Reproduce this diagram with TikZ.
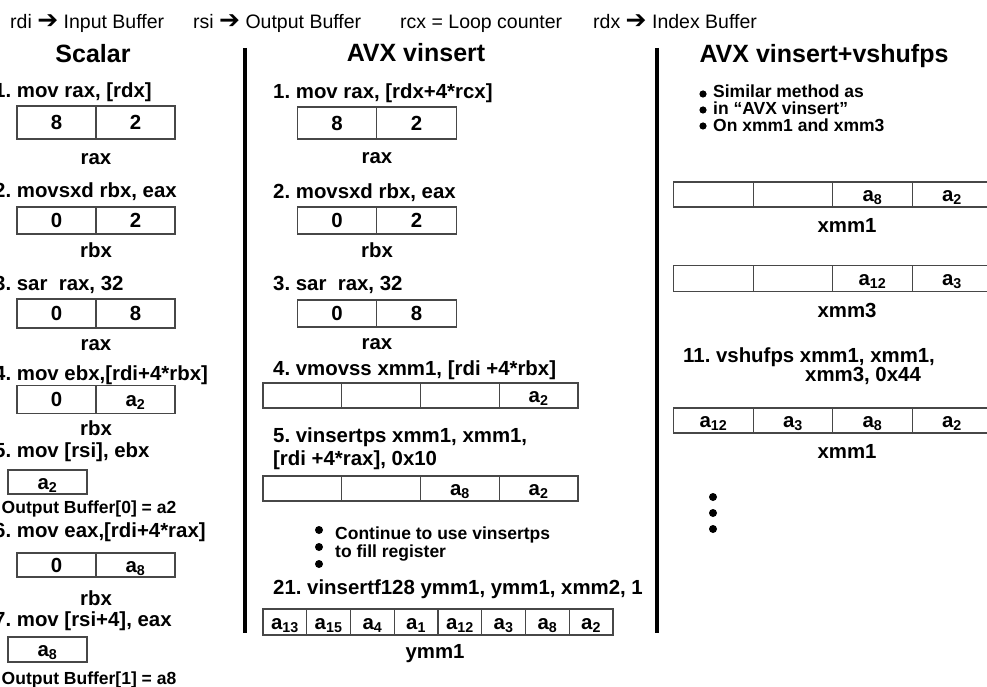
\documentclass[tikz,border=0pt]{standalone}
\usepackage{fontspec}
\setmainfont{Liberation Sans}
\newfontfamily\arrowfont{DejaVu Sans}
\newcommand\hdrf{\fontsize{19.5}{22}\selectfont}
\newcommand\stepf{\fontsize{20.4}{23}\selectfont\bfseries}
\newcommand\titlef{\fontsize{25}{28}\selectfont\bfseries}
\newcommand\smallf{\fontsize{17.5}{20}\selectfont\bfseries}
\newcommand\rarr{{\arrowfont\bfseries\fontsize{25}{25}\selectfont ➔}}
\newcommand\asub[1]{a\textsubscript{#1}}
\begin{document}
\frenchspacing
\begin{tikzpicture}[x=1pt,y=-1pt,
  hdr/.style={font=\hdrf, anchor=base west, inner sep=0},
  ttl/.style={font=\titlef, anchor=base, inner sep=0},
  stp/.style={font=\stepf, anchor=base west, inner sep=0},
  regname/.style={font=\stepf, anchor=base, inner sep=0},
  note/.style={font=\smallf, anchor=base west, inner sep=0},
  notec/.style={font=\smallf, anchor=base, inner sep=0},
  cell/.style={draw=black!72, line width=1.1pt, inner sep=0, font=\stepf, text height=14.6pt, text depth=0pt},
  sep/.style={line width=4pt, black},
  dot/.style={black}
]
\useasboundingbox (0,0) rectangle (987,687);
\fill[white] (0,0) rectangle (987,687);

% header
\node[hdr] (h1) at (10,29) {rdi \rarr\ Input Buffer};
\node[hdr] (h2) at (193,29) {rsi \rarr\ Output Buffer};
\node[hdr] (h3) at (400,29) {rcx = Loop counter};
\node[hdr] (h4) at (593,29) {rdx \rarr\ Index Buffer};

% separators
\coordinate (s1t) at (244.5,48); \coordinate (s1b) at (244.5,633);
\coordinate (s2t) at (657,48); \coordinate (s2b) at (657,633);
\draw[sep] (s1t) -- (s1b);
\draw[sep] (s2t) -- (s2b);

% titles
\node[ttl] (t1) at (93,63) {Scalar};
\node[ttl] (t2) at (416,62) {AVX vinsert};
\node[ttl] (t3) at (824,63) {AVX vinsert+vshufps};

% ---------------- Scalar column
\node[stp] (sl1) at (-6,98) {1. mov rax, [rdx]};
\node[cell, minimum width=79pt, minimum height=33pt] (sb1a) at (56.5,122.5) {8};
\node[cell, minimum width=79pt, minimum height=33pt] (sb1b) at (135.5,122.5) {2};
\node[regname] (sr1) at (96,165) {rax};

\node[stp] (sl2) at (-6,197) {2. movsxd rbx, eax};
\node[cell, minimum width=79pt, minimum height=27pt] (sb2a) at (56.5,220.5) {0};
\node[cell, minimum width=79pt, minimum height=27pt] (sb2b) at (135.5,220.5) {2};
\node[regname] (sr2) at (96,257) {rbx};

\node[stp] (sl3) at (-6,290) {3. sar\ \ rax, 32};
\node[cell, minimum width=79pt, minimum height=29pt] (sb3a) at (56.5,313.5) {0};
\node[cell, minimum width=79pt, minimum height=29pt] (sb3b) at (135.5,313.5) {8};
\node[regname] (sr3) at (96,350) {rax};

\node[stp] (sl4) at (-6,380) {4. mov ebx,[rdi+4*rbx]};
\node[cell, minimum width=79pt, minimum height=28pt] (sb4a) at (56.5,399.5) {0};
\node[cell, minimum width=79pt, minimum height=28pt] (sb4b) at (135.5,399.5) {\asub{2}};
\node[regname] (sr4) at (96,435) {rbx};

\node[stp] (sl5) at (-6,457) {5. mov [rsi], ebx};
\node[cell, minimum width=79pt, minimum height=24pt] (sb5) at (47.5,482) {\asub{2}};
\node[notec] (so1) at (89,513) {Output Buffer[0] = a2};

\node[stp] (sl6) at (-6,537) {6. mov eax,[rdi+4*rax]};
\node[cell, minimum width=79pt, minimum height=24pt] (sb6a) at (56.5,565) {0};
\node[cell, minimum width=79pt, minimum height=24pt] (sb6b) at (135.5,565) {\asub{8}};
\node[regname] (sr6) at (96,605) {rbx};

\node[stp] (sl7) at (-6,626) {7. mov [rsi+4], eax};
\node[cell, minimum width=79pt, minimum height=25pt] (sb7) at (47.5,649.5) {\asub{8}};
\node[notec] (so2) at (89,684) {Output Buffer[1] = a8};

% ---------------- AVX vinsert column
\node[stp] (al1) at (273,99) {1. mov rax, [rdx+4*rcx]};
\node[cell, minimum width=79.5pt, minimum height=32pt] (ab1a) at (337,123) {8};
\node[cell, minimum width=79.5pt, minimum height=32pt] (ab1b) at (416.5,123) {2};
\node[regname] (ar1) at (377,164) {rax};

\node[stp] (al2) at (273,199) {2. movsxd rbx, eax};
\node[cell, minimum width=79.5pt, minimum height=27pt] (ab2a) at (337,220.5) {0};
\node[cell, minimum width=79.5pt, minimum height=27pt] (ab2b) at (416.5,220.5) {2};
\node[regname] (ar2) at (377,257) {rbx};

\node[stp] (al3) at (273,290) {3. sar\ \ rax, 32};
\node[cell, minimum width=79.5pt, minimum height=27pt] (ab3a) at (337,313.5) {0};
\node[cell, minimum width=79.5pt, minimum height=27pt] (ab3b) at (416.5,313.5) {8};
\node[regname] (ar3) at (377,349) {rax};

\node[stp] (al4) at (273,375) {4. vmovss xmm1, [rdi +4*rbx]};
\node[cell, minimum width=78.75pt, minimum height=25pt] (ab4a) at (302.4,395.5) {};
\node[cell, minimum width=78.75pt, minimum height=25pt] (ab4b) at (381.1,395.5) {};
\node[cell, minimum width=78.75pt, minimum height=25pt] (ab4c) at (459.9,395.5) {};
\node[cell, minimum width=78.75pt, minimum height=25pt] (ab4d) at (538.6,395.5) {\asub{2}};

\node[stp] (al5) at (273,442) {5. vinsertps xmm1, xmm1,};
\node[stp] (al5b) at (273,465) {[rdi +4*rax], 0x10};
\node[cell, minimum width=78.75pt, minimum height=25pt] (ab5a) at (302.4,488.5) {};
\node[cell, minimum width=78.75pt, minimum height=25pt] (ab5b) at (381.1,488.5) {};
\node[cell, minimum width=78.75pt, minimum height=25pt] (ab5c) at (459.9,488.5) {\asub{8}};
\node[cell, minimum width=78.75pt, minimum height=25pt] (ab5d) at (538.6,488.5) {\asub{2}};

\fill[dot] (319,530) circle (4pt);
\fill[dot] (319,547) circle (4pt);
\fill[dot] (319,564) circle (4pt);
\node[note] (an1) at (335,539) {Continue to use vinsertps};
\node[note] (an2) at (335,557) {to fill register};

\node[stp] (al6) at (273,594) {21. vinsertf128 ymm1, ymm1, xmm2, 1};
\node[cell, minimum width=43.75pt, minimum height=26pt] (ay1) at (284.9,622) {\asub{13}};
\node[cell, minimum width=43.75pt, minimum height=26pt] (ay2) at (328.6,622) {\asub{15}};
\node[cell, minimum width=43.75pt, minimum height=26pt] (ay3) at (372.4,622) {\asub{4}};
\node[cell, minimum width=43.75pt, minimum height=26pt] (ay4) at (416.1,622) {\asub{1}};
\node[cell, minimum width=43.75pt, minimum height=26pt] (ay5) at (459.9,622) {\asub{12}};
\node[cell, minimum width=43.75pt, minimum height=26pt] (ay6) at (503.6,622) {\asub{3}};
\node[cell, minimum width=43.75pt, minimum height=26pt] (ay7) at (547.4,622) {\asub{8}};
\node[cell, minimum width=43.75pt, minimum height=26pt] (ay8) at (591.1,622) {\asub{2}};
\node[regname] (ar8) at (435,658) {ymm1};

% ---------------- AVX vinsert+vshufps column
\fill[dot] (703,94) circle (3.6pt);
\fill[dot] (703,110) circle (3.6pt);
\fill[dot] (703,126) circle (3.6pt);
\node[note] (bn1) at (713,98) {Similar method as};
\node[note] (bn2) at (713,115) {in “AVX vinsert”};
\node[note] (bn3) at (713,132) {On xmm1 and xmm3};

\node[cell, minimum width=79.5pt, minimum height=25pt] (bx1a) at (713.5,194.5) {};
\node[cell, minimum width=79.5pt, minimum height=25pt] (bx1b) at (793,194.5) {};
\node[cell, minimum width=79.5pt, minimum height=25pt] (bx1c) at (872.5,194.5) {\asub{8}};
\node[cell, minimum width=79.5pt, minimum height=25pt] (bx1d) at (952,194.5) {\asub{2}};
\node[regname] (br1) at (847,232) {xmm1};

\node[cell, minimum width=79.5pt, minimum height=26.5pt] (bx3a) at (713.5,278.5) {};
\node[cell, minimum width=79.5pt, minimum height=26.5pt] (bx3b) at (793,278.5) {};
\node[cell, minimum width=79.5pt, minimum height=26.5pt] (bx3c) at (872.5,278.5) {\asub{12}};
\node[cell, minimum width=79.5pt, minimum height=26.5pt] (bx3d) at (952,278.5) {\asub{3}};
\node[regname] (br3) at (847,317) {xmm3};

\node[stp] (bl1) at (683,362) {11. vshufps xmm1, xmm1,};
\node[stp] (bl1b) at (805,381) {xmm3, 0x44};
\node[cell, minimum width=79.5pt, minimum height=25pt] (bxfa) at (713.5,420.5) {\asub{12}};
\node[cell, minimum width=79.5pt, minimum height=25pt] (bxfb) at (793,420.5) {\asub{3}};
\node[cell, minimum width=79.5pt, minimum height=25pt] (bxfc) at (872.5,420.5) {\asub{8}};
\node[cell, minimum width=79.5pt, minimum height=25pt] (bxfd) at (952,420.5) {\asub{2}};
\node[regname] (brf) at (847,458) {xmm1};

\fill[dot] (713,497) circle (4pt);
\fill[dot] (713,513) circle (4pt);
\fill[dot] (713,529) circle (4pt);
\end{tikzpicture}
\end{document}
